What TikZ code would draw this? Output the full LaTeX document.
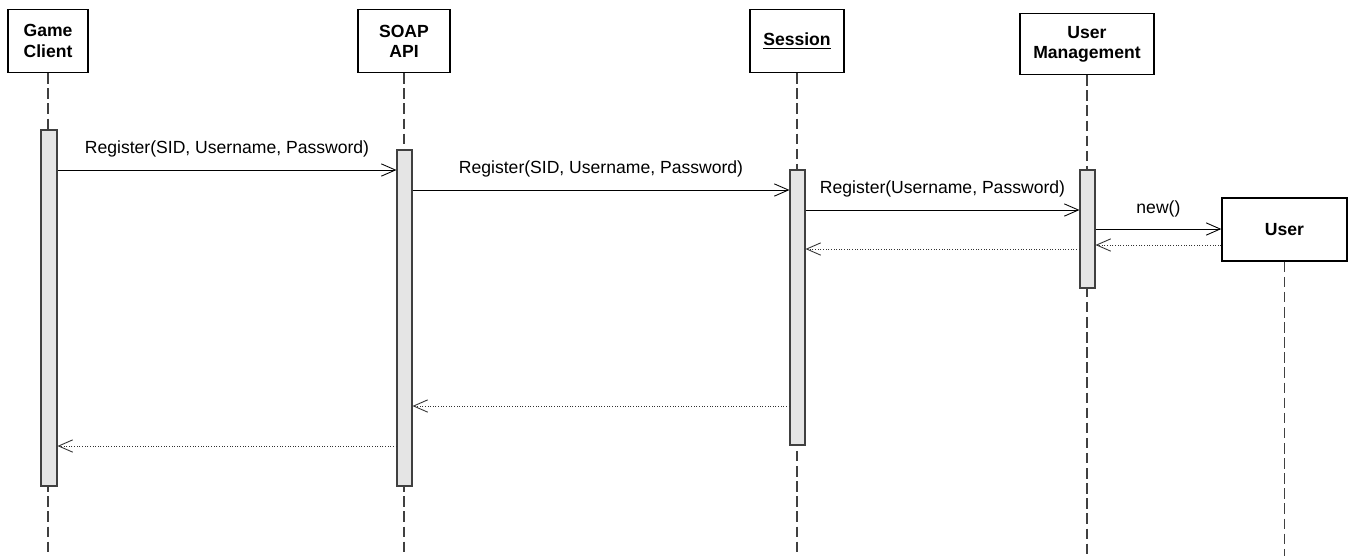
\documentclass[tikz,border=0pt]{standalone}
\usepackage{fontspec}
\setmainfont{Liberation Sans}
\usetikzlibrary{arrows.meta}
\usetikzlibrary{fit}

\begin{document}
\begin{tikzpicture}
[x=0.02cm,y=-0.02cm,
 font=\fontsize{10}{11.5}\selectfont,
 obj/.style={draw,line width=0.8pt,fill=white,align=center,inner sep=0pt,font=\fontsize{10}{11.5}\selectfont\bfseries},
 bar/.style={draw=black!75,fill=black!10,inner sep=0pt,line width=0.6pt},
 life/.style={draw=black!75,line width=0.6pt,dash pattern=on 6pt off 2.6pt},
 msg/.style={line width=0.5pt,-{Straight Barb[length=8pt,width=7pt,line width=0.5pt]}},
 ret/.style={msg,draw=black!80,densely dotted}]
\useasboundingbox (0,0) rectangle (1349,556);
\node[obj,minimum width=1.6cm,minimum height=1.26cm] (gc) at (48,41) {Game\\Client};
\node[obj,minimum width=1.84cm,minimum height=1.26cm] (soap) at (404,41) {SOAP\\API};
\node[obj,minimum width=1.88cm,minimum height=1.26cm] (ses) at (797,41) {\underline{Session}};
\node[obj,minimum width=2.68cm,minimum height=1.22cm] (um) at (1087,44) {User\\Management};
\node[obj,minimum width=2.5cm,minimum height=1.26cm] (user) at (1284.5,229.5) {User};
\coordinate (bot) at (0,556);
% lifelines
\foreach \o in {gc,soap,ses,um,user}
  \draw[life] (\o.south) -- (\o.south |- bot);
% activations
\node[bar,fit={(41,130) (57,486)}] (gcbar) {};
\node[bar,fit={(397,150) (412,486)}] (soapbar) {};
\node[bar,fit={(790,170) (805,445)}] (sesbar) {};
\node[bar,fit={(1080,170) (1095,288)}] (umbar) {};
% calls
\coordinate (m1) at (0,170);
\coordinate (m2) at (0,190);
\coordinate (m3) at (0,210);
\coordinate (m4) at (0,229);
\draw[msg] (gcbar.east |- m1) -- node[above=4pt]{Register(SID, Username, Password)} (soapbar.west |- m1);
\draw[msg] (soapbar.east |- m2) -- node[above=4pt]{Register(SID, Username, Password)} (sesbar.west |- m2);
\draw[msg] (sesbar.east |- m3) -- node[above=4pt]{Register(Username, Password)} (umbar.west |- m3);
\draw[msg] (umbar.east |- m4) -- node[above=3pt]{new()} (user.west |- m4);
% returns
\coordinate (r1) at (0,245);
\coordinate (r2) at (0,249);
\coordinate (r3) at (0,406);
\coordinate (r4) at (0,446);
\draw[ret] (user.west |- r1) -- (umbar.east |- r1);
\draw[ret] (umbar.west |- r2) -- (sesbar.east |- r2);
\draw[ret] (sesbar.west |- r3) -- (soapbar.east |- r3);
\draw[ret] (soapbar.west |- r4) -- (gcbar.east |- r4);
\end{tikzpicture}
\end{document}
